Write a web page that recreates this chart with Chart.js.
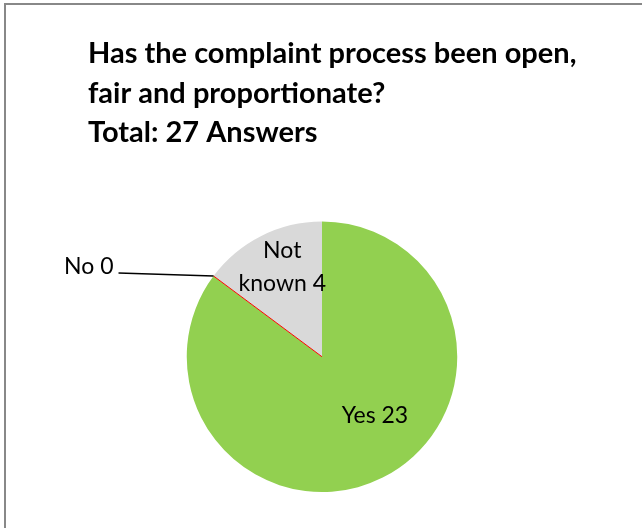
<!DOCTYPE html>
<html lang="en">
<head>
<meta charset="UTF-8" />
<title>Complaint process survey</title>
<script src="https://cdn.jsdelivr.net/npm/chart.js"></script>
<style>
  html, body { margin: 0; padding: 0; background: #fff; overflow: hidden; }
  .frame { position: absolute; left: 4px; top: 3px; width: 660px; height: 560px;
           border-left: 2px solid #888; border-top: 2px solid #888; }
  #surveyPie { position: absolute; left: 0; top: 0; }
</style>
</head>
<body>
<div class="frame"></div>
<canvas id="surveyPie" width="642" height="528"></canvas>

<script>
  // survey answers
  const answers = ['Yes', 'No', 'Not known'];
  const counts = [23, 0, 4];
  const sliceColors = ['#92D050', '#FF0000', '#D9D9D9'];
  const titleLines = [
    'Has the complaint process been open,',
    'fair and proportionate?',
    'Total: 27 Answers'
  ];

  // where each label sits: fraction along the slice + fraction of radius,
  // or a leader line for empty slices
  const labelSpots = [
    { at: 0.45, r: 0.585 },
    { leader: [-95, -3] },
    { at: 0.555, r: 0.73 }
  ];

  // let the title run past the pie's right padding so it isn't squeezed
  const wideTitle = {
    id: 'wideTitle',
    afterLayout(chart) {
      if (chart.titleBlock) chart.titleBlock.right = chart.width;
    }
  };

  const sliceLabels = {
    id: 'sliceLabels',
    afterDatasetsDraw(chart) {
      const ctx = chart.ctx;
      const meta = chart.getDatasetMeta(0);
      ctx.save();
      ctx.font = '23px Lato';
      ctx.fillStyle = '#000';
      meta.data.forEach((arc, i) => {
        const { x, y, startAngle, endAngle, outerRadius } = arc.getProps(['x', 'y', 'startAngle', 'endAngle', 'outerRadius'], true);
        const spot = labelSpots[i];
        const text = answers[i] + ' ' + counts[i];
        if (spot.leader) {
          const ex = x + Math.cos(startAngle) * outerRadius;
          const ey = y + Math.sin(startAngle) * outerRadius;
          // empty slice shows as a hairline
          ctx.strokeStyle = sliceColors[i];
          ctx.lineWidth = 1;
          ctx.beginPath();
          ctx.moveTo(x, y);
          ctx.lineTo(ex, ey);
          ctx.stroke();
          const lx = ex + spot.leader[0];
          const ly = ey + spot.leader[1];
          ctx.strokeStyle = '#000';
          ctx.lineWidth = 1.5;
          ctx.beginPath();
          ctx.moveTo(ex, ey);
          ctx.lineTo(lx, ly);
          ctx.stroke();
          ctx.textAlign = 'right';
          ctx.textBaseline = 'alphabetic';
          ctx.fillText(text, lx - 5, ly + 1);
          return;
        }
        const a = startAngle + (endAngle - startAngle) * spot.at;
        const px = x + Math.cos(a) * outerRadius * spot.r;
        const py = y + Math.sin(a) * outerRadius * spot.r;
        ctx.textAlign = 'center';
        ctx.textBaseline = 'middle';
        if (answers[i] === 'Not known') {
          ctx.fillText('Not', px, py - 16);
          ctx.fillText('known ' + counts[i], px, py + 17);
        } else {
          ctx.fillText(text, px, py);
        }
      });
      ctx.restore();
    }
  };

  new Chart(document.getElementById('surveyPie'), {
    type: 'pie',
    data: {
      labels: answers,
      datasets: [{
        data: counts,
        backgroundColor: sliceColors,
        borderWidth: 0
      }]
    },
    options: {
      responsive: false,
      animation: false,
      layout: { padding: { left: 88, right: 86, top: 0, bottom: 36 } },
      plugins: {
        legend: { display: false },
        tooltip: { enabled: false },
        title: {
          display: true,
          text: titleLines,
          align: 'start',
          color: '#000',
          font: { family: 'Lato', size: 29, weight: 'bold', lineHeight: 1.362 },
          padding: { top: 34, bottom: 69 }
        }
      }
    },
    plugins: [wideTitle, sliceLabels]
  });
</script>
</body>
</html>
